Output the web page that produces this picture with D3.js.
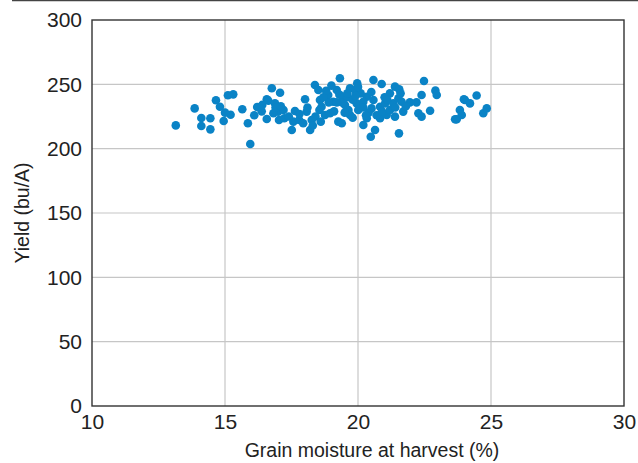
<!DOCTYPE html>
<html>
<head>
<meta charset="utf-8">
<script src="https://cdn.jsdelivr.net/npm/d3@7"></script>
<style>
  body { margin: 0; background: #fff; }
  svg { display: block; font-family: "Liberation Sans", Arial, sans-serif; }
</style>
</head>
<body>
<svg id="chart" width="638" height="463"></svg>
<script>
// grain moisture (%) and yield (bu/A)
const moisture = [
  13.15, 13.86, 14.11, 14.45, 14.11, 14.45, 14.66, 14.81, 14.95, 15.11,
  15.31, 15.21, 15.65, 15.86, 15.95, 16.21, 16.57, 16.38, 16.57, 16.76,
  16.63, 16.88, 17.07, 17.0, 16.82, 17.03, 17.23, 17.51, 17.63, 17.57,
  17.79, 18.01, 18.07, 17.94, 18.2, 18.26, 18.38, 18.51, 18.57, 18.55,
  18.63, 18.76, 18.88, 18.95, 19.07, 19.2, 19.32, 19.26, 19.39, 19.45,
  19.51, 19.64, 19.7, 19.7, 19.89, 19.97, 19.95, 20.01, 20.58, 20.89,
  20.33, 20.2, 20.58, 20.83, 20.51, 20.33, 20.2, 20.64, 20.48, 20.83,
  21.08, 21.02, 21.2, 21.39, 21.55, 21.33, 21.52, 21.64, 21.39, 21.7,
  21.54, 21.95, 22.2, 22.39, 22.48, 22.27, 22.39, 22.71, 22.91, 22.96,
  23.71, 23.83, 23.9, 24.02, 24.21, 24.46, 24.71, 24.84, 23.65, 23.98,
  19.4, 19.6, 19.8, 20.1, 20.0, 19.9, 19.3, 19.1, 18.9, 18.7,
  18.4, 18.3, 18.6, 20.4, 20.7, 20.9, 21.2, 21.4, 21.6, 21.8,
  20.5, 19.5, 19.8, 20.2, 19.2, 17.4, 17.2, 16.9, 16.4, 17.8,
  18.1, 18.8, 19.0, 20.3, 21.0, 15.0, 16.1, 17.1, 19.6, 21.1
];
const yieldVals = [
  218.1, 231.3, 223.8, 223.6, 217.6, 215.0, 237.6, 232.6, 221.5, 241.5,
  242.2, 226.4, 230.6, 219.7, 203.6, 232.4, 238.4, 229.0, 223.0, 246.9,
  237.3, 235.2, 243.5, 228.8, 227.5, 222.3, 223.6, 214.5, 229.3, 221.0,
  222.3, 238.4, 228.8, 219.7, 214.5, 222.3, 249.5, 245.6, 237.8, 230.0,
  232.6, 226.2, 241.7, 227.5, 236.5, 245.6, 254.7, 221.0, 219.7, 240.4,
  233.9, 230.0, 246.9, 226.2, 245.6, 250.8, 235.2, 230.0, 253.4, 250.3,
  240.4, 236.5, 237.8, 232.6, 231.3, 223.6, 218.4, 214.5, 209.3, 223.6,
  226.2, 235.2, 243.0, 248.2, 246.1, 235.2, 239.1, 236.5, 224.9, 228.8,
  211.9, 236.0, 236.0, 241.7, 252.6, 227.5, 224.9, 229.5, 245.1, 241.7,
  222.8, 230.0, 226.2, 237.8, 235.2, 241.3, 227.5, 231.3, 222.8, 238.4,
  236, 240, 238, 243, 248, 241, 242, 229, 236, 240,
  225, 218, 221, 228, 226, 229, 230, 232, 243, 233,
  244, 228, 224, 232, 236, 225, 230, 232, 234, 227,
  232, 245, 249, 226, 240, 228, 226, 233, 243, 238
];
const xTicks = [10, 15, 20, 25, 30];
const yTicks = [0, 50, 100, 150, 200, 250, 300];

const svg = d3.select("#chart");
const plotLeft = 92, plotRight = 624, plotTop = 20, plotBottom = 406;

const x = d3.scaleLinear().domain([10, 30]).range([plotLeft, plotRight]);
const y = d3.scaleLinear().domain([0, 300]).range([plotBottom, plotTop]);

// rule across the top of the figure
svg.append("line")
  .attr("x1", 12).attr("x2", 638).attr("y1", 0.5).attr("y2", 0.5)
  .attr("stroke", "#444").attr("stroke-width", 1.5);

// grid
svg.append("g").selectAll("line").data(xTicks.slice(1, -1)).join("line")
  .attr("x1", d => x(d)).attr("x2", d => x(d))
  .attr("y1", plotTop).attr("y2", plotBottom)
  .attr("stroke", "#c6c6c6").attr("stroke-width", 1.2);
svg.append("g").selectAll("line").data(yTicks.slice(1, -1)).join("line")
  .attr("x1", plotLeft).attr("x2", plotRight)
  .attr("y1", d => y(d)).attr("y2", d => y(d))
  .attr("stroke", "#c6c6c6").attr("stroke-width", 1.2);

// axes (labels only, frame drawn separately)
const xAxis = svg.append("g")
  .attr("transform", "translate(0," + plotBottom + ")")
  .call(d3.axisBottom(x).tickValues(xTicks).tickSize(0).tickPadding(8));
const yAxis = svg.append("g")
  .attr("transform", "translate(" + plotLeft + ",0)")
  .call(d3.axisLeft(y).tickValues(yTicks).tickSize(0).tickPadding(10));
[xAxis, yAxis].forEach(a => {
  a.select(".domain").remove();
  a.selectAll("text").attr("font-size", 21).attr("fill", "#222")
    .attr("font-family", "'Liberation Sans', Arial, sans-serif");
});

// frame
svg.append("rect")
  .attr("x", plotLeft).attr("y", plotTop)
  .attr("width", plotRight - plotLeft).attr("height", plotBottom - plotTop)
  .attr("fill", "none").attr("stroke", "#333").attr("stroke-width", 1.4);

// points
svg.append("g").selectAll("circle").data(moisture).join("circle")
  .attr("cx", d => x(d))
  .attr("cy", (d, i) => y(yieldVals[i]))
  .attr("r", 4.3)
  .attr("fill", "#0a83c6");

// titles
svg.append("text")
  .attr("x", (plotLeft + plotRight) / 2 + 14).attr("y", 457)
  .attr("text-anchor", "middle").attr("font-size", 19.5).attr("fill", "#222")
  .text("Grain moisture at harvest (%)");
svg.append("text")
  .attr("transform", "translate(29," + ((plotTop + plotBottom) / 2) + ") rotate(-90)")
  .attr("text-anchor", "middle").attr("font-size", 19.5).attr("fill", "#222")
  .text("Yield (bu/A)");
</script>
</body>
</html>
